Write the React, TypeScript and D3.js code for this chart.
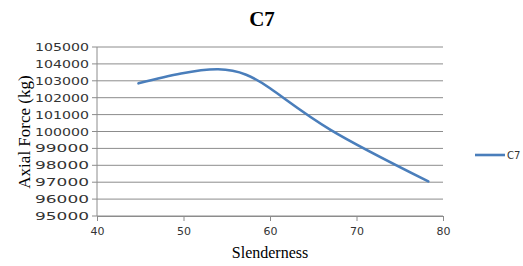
// @ts-nocheck
import React, { useEffect, useRef } from 'react'
import * as d3 from 'd3'

const slenderness = [44.8, 54, 60, 67, 78.3]
const axialForce = [102850, 103680, 102560, 100100, 97050]
const yTicks = [95000, 96000, 97000, 98000, 99000, 100000, 101000, 102000, 103000, 104000, 105000]
const xTicks = [40, 50, 60, 70, 80]
const seriesName = 'C7'

const App = () => {
    const ref = useRef(null)

    useEffect(() => {
        const width = 523, height = 266
        const left = 97, right = 443, top = 47, bottom = 216

        const x = d3.scaleLinear([40, 80], [left, right])
        const y = d3.scaleLinear([95000, 105000], [bottom, top])

        const svg = d3.select(ref.current)
        svg.selectAll('*').remove()
        svg.attr('width', width).attr('height', height)

        // grid lines
        svg.append('g')
            .selectAll('line')
            .data(yTicks)
            .join('line')
            .attr('x1', left - 5)
            .attr('x2', right)
            .attr('y1', d => y(d))
            .attr('y2', d => y(d))
            .attr('stroke', '#8c8c8c')
            .attr('stroke-width', 1)

        // y tick labels
        svg.append('g')
            .selectAll('text')
            .data(yTicks)
            .join('text')
            .attr('x', 89)
            .attr('y', d => y(d) + 4)
            .attr('text-anchor', 'end')
            .attr('font-family', 'DejaVu Sans')
            .attr('font-size', 11)
            .attr('fill', '#333')
            .attr('textLength', 54)
            .attr('lengthAdjust', 'spacingAndGlyphs')
            .text(d => d)

        // x axis
        svg.append('g')
            .attr('transform', `translate(0, ${bottom})`)
            .call(d3.axisBottom(x).tickValues(xTicks).tickSize(5).tickSizeOuter(0).tickPadding(6))
            .call(g => g.select('.domain').attr('stroke', '#8c8c8c'))
            .call(g => g.selectAll('.tick line').attr('stroke', '#8c8c8c'))
            .call(g => g.selectAll('.tick text')
                .attr('font-family', 'DejaVu Sans')
                .attr('font-size', 11)
                .attr('fill', '#333'))

        // y axis line
        svg.append('line')
            .attr('x1', left).attr('x2', left)
            .attr('y1', top).attr('y2', bottom)
            .attr('stroke', '#8c8c8c')

        // series line, smoothed like the spreadsheet
        const pts = slenderness.map((s, i) => [s, axialForce[i]])
        const line = d3.line()
            .x(d => x(d[0]))
            .y(d => y(d[1]))
            .curve(d3.curveNatural)
        svg.append('path')
            .attr('d', line(pts))
            .attr('fill', 'none')
            .attr('stroke', '#4a7ebb')
            .attr('stroke-width', 2.6)
            .attr('stroke-linecap', 'round')

        // title
        svg.append('text')
            .attr('x', 262).attr('y', 26)
            .attr('text-anchor', 'middle')
            .attr('font-family', 'Liberation Serif')
            .attr('font-weight', 'bold')
            .attr('font-size', 21)
            .text(seriesName)

        // axis titles
        svg.append('text')
            .attr('transform', 'translate(30, 132) rotate(-90)')
            .attr('text-anchor', 'middle')
            .attr('font-family', 'Liberation Serif')
            .attr('font-size', 17)
            .text('Axial Force (kg)')

        svg.append('text')
            .attr('x', 270).attr('y', 258)
            .attr('text-anchor', 'middle')
            .attr('font-family', 'Liberation Serif')
            .attr('font-size', 16)
            .text('Slenderness')

        // legend
        svg.append('line')
            .attr('x1', 475).attr('x2', 505)
            .attr('y1', 155).attr('y2', 155)
            .attr('stroke', '#4a7ebb')
            .attr('stroke-width', 2.6)
        svg.append('text')
            .attr('x', 507).attr('y', 159)
            .attr('font-family', 'DejaVu Sans')
            .attr('font-size', 10)
            .attr('fill', '#333')
            .text(seriesName)
    }, [])

    return <svg ref={ref} width={523} height={266} style={{ position: 'absolute', left: 0, top: 0 }}></svg>
}

export default App
